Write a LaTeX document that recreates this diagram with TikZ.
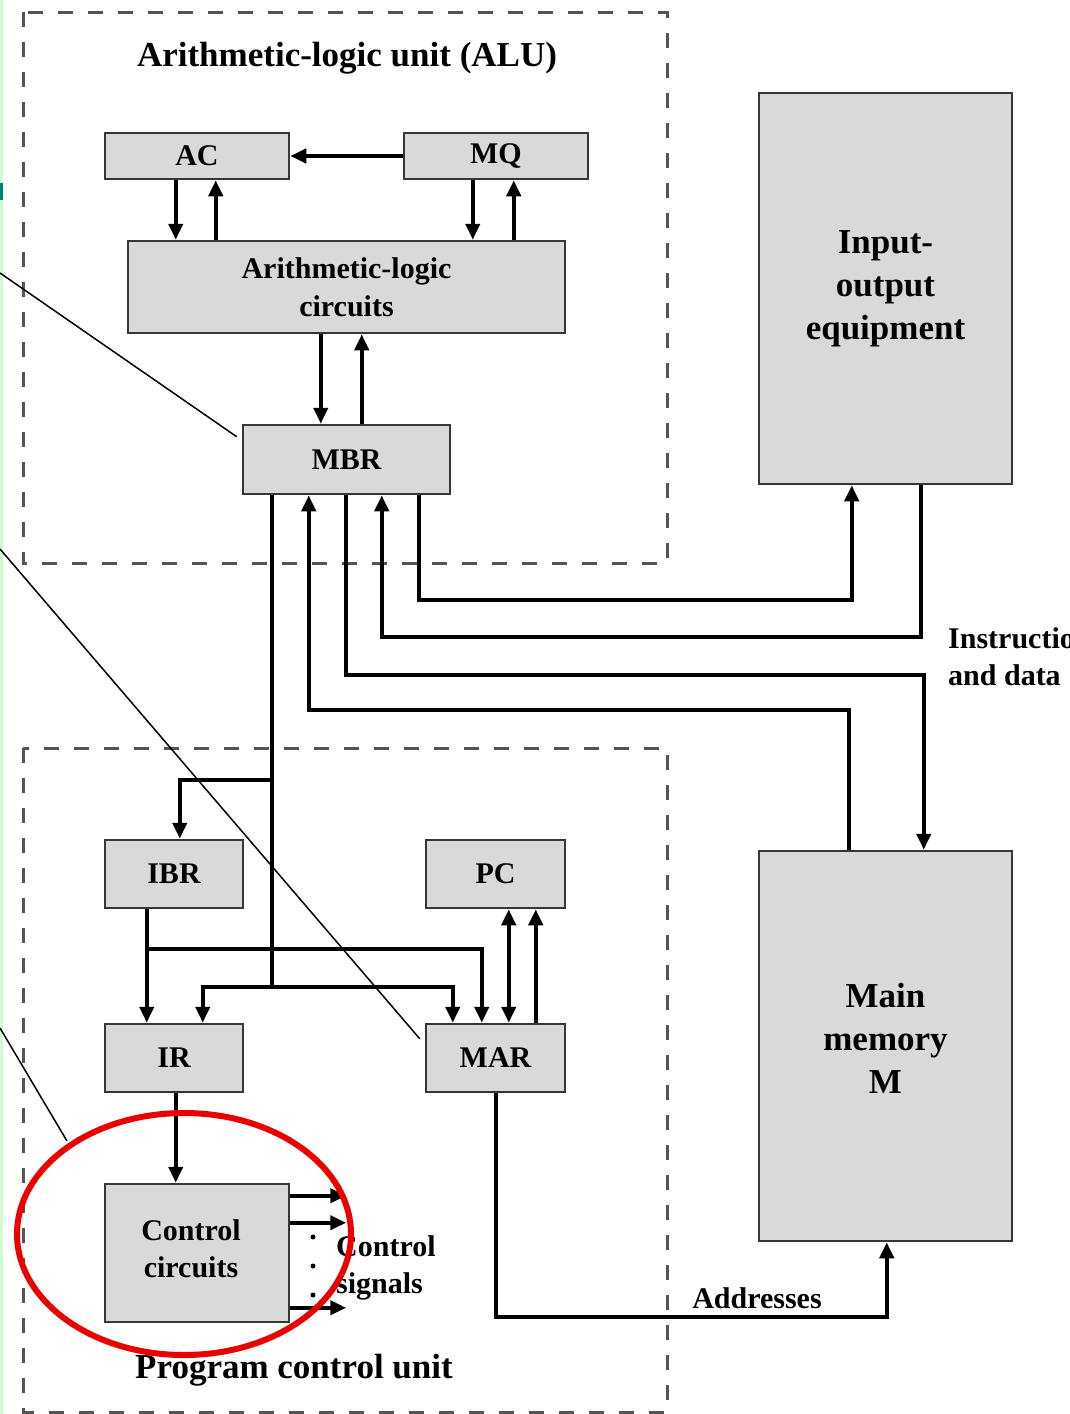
\documentclass[tikz,border=0pt]{standalone}
\usepackage{fontspec}
\setmainfont{Liberation Serif}
\usetikzlibrary{arrows.meta}
\definecolor{boxline}{RGB}{55,55,55}
\definecolor{boxfill}{RGB}{217,217,217}
\definecolor{dashgray}{RGB}{85,85,85}
\definecolor{stripgreen}{RGB}{204,255,204}
\definecolor{markteal}{RGB}{0,128,128}
\definecolor{ringred}{RGB}{235,0,0}
\begin{document}
\begin{tikzpicture}[x=1pt,y=-1pt,
  box/.style={draw=boxline, fill=boxfill, line width=2.5pt, inner sep=0pt, align=center,
              font=\fontsize{30}{38}\selectfont\bfseries},
  bigbox/.style={box, font=\fontsize{35}{43}\selectfont\bfseries},
  arr/.style={line width=4pt, -{Triangle[length=16pt,width=14pt]}},
  arrboth/.style={line width=4pt, {Triangle[length=16pt,width=14pt]}-{Triangle[length=16pt,width=14pt]}},
  wire/.style={line width=4pt},
  unitbox/.style={draw=dashgray, line width=3pt, dash pattern=on 15pt off 15pt},
  lbl/.style={font=\fontsize{30}{37}\selectfont\bfseries, inner sep=0pt, align=left},
  ttl/.style={font=\fontsize{35}{42}\selectfont\bfseries, inner sep=0pt},
  pointer/.style={line width=1.5pt, black},
]
\useasboundingbox (0,0) rectangle (1069,1414);
\clip (0,0) rectangle (1069,1414);

% left strip
\fill[stripgreen] (0,0) rectangle (3,1414);
\fill[markteal] (0,183) rectangle (3,200);

% dashed units
\draw[unitbox] (23,12) rectangle (667,563);
\draw[unitbox] (23,748) rectangle (667,1412);
\node[ttl] (alutitle) at (347,58) {Arithmetic-logic unit (ALU)};
\node[ttl] (pcutitle) at (294,1370) {Program control unit};

% boxes
\node[box, minimum width=184pt, minimum height=46pt] (AC) at (197,156) {AC};
\node[box, minimum width=184pt, minimum height=46pt] (MQ) at (496,156) {MQ};
\node[box, minimum width=437pt, minimum height=92pt] (ALC) at (346.5,287) {Arithmetic-logic\\circuits};
\node[box, minimum width=207pt, minimum height=69pt] (MBR) at (346.5,459.5) {MBR};
\node[bigbox, minimum width=253pt, minimum height=391pt] (IO) at (885.5,288.5) {Input-\\output\\equipment};
\node[bigbox, minimum width=253pt, minimum height=390pt,
      label={[font=\fontsize{35}{43}\selectfont\bfseries, align=center, inner sep=0pt, yshift=8pt]center:{Main\\memory\\M}}]
      (MEM) at (885.5,1046) {};
\node[box, minimum width=138pt, minimum height=68pt] (IBR) at (174,874) {IBR};
\node[box, minimum width=139pt, minimum height=68pt] (PC) at (495.5,874) {PC};
\node[box, minimum width=138pt, minimum height=68pt] (IR) at (174,1058) {IR};
\node[box, minimum width=139pt, minimum height=68pt] (MAR) at (495.5,1058) {MAR};
\node[box, minimum width=184pt, minimum height=138pt,
      label={[font=\fontsize{30}{37}\selectfont\bfseries, align=center, inner sep=0pt, xshift=-6pt, yshift=4pt]center:{Control\\circuits}}]
      (CC) at (197,1253) {};

% ALU internal connectors
\draw[arr] (MQ.west) -- (AC.east);
\draw[arr] ([xshift=72pt]AC.south west) -- ([xshift=49pt]ALC.north west);
\draw[arr] ([xshift=89pt]ALC.north west) -- ([xshift=112pt]AC.south west);
\draw[arr] ([xshift=70pt]MQ.south west) -- ([xshift=346pt]ALC.north west);
\draw[arr] ([xshift=387pt]ALC.north west) -- ([xshift=111pt]MQ.south west);
\draw[arr] ([xshift=194pt]ALC.south west) -- ([xshift=79pt]MBR.north west);
\draw[arr] ([xshift=120pt]MBR.north west) -- ([xshift=235pt]ALC.south west);

% MBR <-> I/O and memory
\draw[arr] ([xshift=177pt]MBR.south west) -- ++(0,105) -| ([xshift=94pt]IO.south west);
\draw[arr] ([xshift=163pt]IO.south west) -- ++(0,152) -| ([xshift=140pt]MBR.south west);
\draw[arr] ([xshift=104pt]MBR.south west) -- ++(0,180) -| ([xshift=166pt]MEM.north west);
\draw[arr] ([xshift=91pt]MEM.north west) -- ++(0,-140) -| ([xshift=67pt]MBR.south west);
\node[lbl, anchor=west] (instr) at (948,657) {Instructions\\and data};

% MBR bus into program control unit
\coordinate (b0) at ([xshift=30pt]MBR.south west);
\coordinate (bIBR) at ([yshift=-285pt]b0);
\coordinate (bIR) at ([yshift=-492pt]b0);
\draw[wire] (b0) -- (bIR);
\draw[arr] (bIBR) -| ([xshift=76pt]IBR.north west);
\draw[arr] (bIR) -| ([xshift=99pt]IR.north west);
\draw[arr] (bIR) -| ([xshift=28pt]MAR.north west);

% IBR connectors
\draw[arr] ([xshift=43pt]IBR.south west) -- ([xshift=43pt]IR.north west);
\draw[arr] ([xshift=43pt,yshift=-40pt]IBR.south west) -| ([xshift=57pt]MAR.north west);

% PC <-> MAR
\draw[arrboth] ([xshift=84pt]PC.south west) -- ([xshift=84pt]MAR.north west);
\draw[arr] ([xshift=111pt]MAR.north west) -- ([xshift=111pt]PC.south west);

% IR -> control circuits
\draw[arr] ([xshift=72pt]IR.south west) -- ([xshift=72pt]CC.north west);

% control signals
\draw[arr] ([yshift=-13pt]CC.north east) -- ++(56,0);
\draw[arr] ([yshift=-40pt]CC.north east) -- ++(56,0);
\draw[arr] ([yshift=-125pt]CC.north east) -- ++(56,0);
\fill (313,1237) circle (2.5pt);
\fill (313,1266) circle (2.5pt);
\fill (313,1295) circle (2.5pt);
\node[lbl, anchor=west] (csig) at (336,1268) {Control\\signals};

% MAR -> memory addresses
\draw[arr] ([xshift=71pt]MAR.south west) -- ++(0,224) -| ([xshift=129pt]MEM.south west);
\node[lbl] (addr) at (757,1298) {Addresses};

% pointer lines
\coordinate (p1) at (0,273);
\coordinate (p2) at (0,549);
\coordinate (p3) at (0,1028);
\coordinate (p3e) at (67,1141);
\draw[pointer] (p1) -- ([xshift=-5pt,yshift=-13pt]MBR.north west);
\draw[pointer] (p2) -- ([xshift=-5pt,yshift=-16pt]MAR.north west);
\draw[pointer] (p3) -- (p3e);

% red highlight ellipse
\draw[ringred, line width=6pt] (184,1234) ellipse [x radius=167pt, y radius=121pt];
\end{tikzpicture}
\end{document}
